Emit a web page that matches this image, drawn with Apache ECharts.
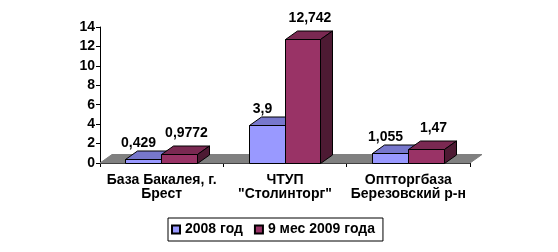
<!DOCTYPE html>
<html><head><meta charset="utf-8">
<script src="https://cdn.jsdelivr.net/npm/echarts@6/dist/echarts.min.js"></script>
<style>html,body{margin:0;padding:0;background:#fff}#c{width:558px;height:252px}</style>
</head><body><div id="c"></div>
<script>
const categories = ['База Бакалея, г.\nБрест', 'ЧТУП\n"Столинторг"', 'Оптторгбаза\nБерезовский р-н'];
const seriesNames = ['2008 год', '9 мес 2009 года'];
const values2008 = [0.429, 3.9, 1.055];
const values2009 = [0.9772, 12.742, 1.47];
const yTicks = {min: 0, max: 14, interval: 2};

const FONT = '"Liberation Sans", Arial, sans-serif';
const FS = 14;
const DX = 12, DY = 8.5;
const palettes = [
  {front: '#9999FF', top: '#7777CC', side: '#4D4D80', lx: -5, ly: -16},
  {front: '#993366', top: '#7A2952', side: '#4D1A33', lx: 7, ly: -21}
];
const fmt = v => String(v).replace('.', ',');
const r = v => Math.round(v) + 0.5;

function barRender(si) {
  const p = palettes[si];
  return function (params, api) {
    const cat = api.value(0), val = api.value(1);
    const t = api.coord([cat, val]);
    const b = api.coord([cat, 0]);
    const bw = api.size([1, 0])[0] * 0.29;
    const x0 = r(t[0] - bw + si * bw - 0.5), x1 = r(t[0] + si * bw - 0.5);
    const yt = r(t[1]), yb = r(b[1]);
    const st = {stroke: '#000', lineWidth: 1, lineJoin: 'miter'};
    return {
      type: 'group',
      children: [
        {type: 'polygon', shape: {points: [[x0, yt], [x1, yt], [x1, yb], [x0, yb]]}, style: Object.assign({fill: p.front}, st)},
        {type: 'polygon', shape: {points: [[x0, yt], [x1, yt], [x1 + DX, yt - DY], [x0 + DX, yt - DY]]}, style: Object.assign({fill: p.top}, st)},
        {type: 'polygon', shape: {points: [[x1, yt], [x1 + DX, yt - DY], [x1 + DX, yb - DY], [x1, yb]]}, style: Object.assign({fill: p.side}, st)},
        {type: 'text', x: (x0 + x1) / 2 + p.lx, y: yt + p.ly,
          style: {text: fmt(val), fill: '#000', font: 'bold ' + FS + 'px ' + FONT, align: 'center', verticalAlign: 'middle'}}
      ]
    };
  };
}

function floorRender(params, api) {
  const cs = params.coordSys;
  const x = cs.x, y = cs.y + cs.height, w = cs.width;
  return {
    type: 'polygon',
    shape: {points: [[x, y], [x + w, y], [x + w + DX, y - DY], [x + DX, y - DY]]},
    style: {fill: '#808080', stroke: '#808080', lineWidth: 1}
  };
}

const chart = echarts.init(document.getElementById('c'), null, {renderer: 'canvas'});
chart.setOption({
  animation: false,
  backgroundColor: '#fff',
  grid: {left: 100, right: 88, top: 27, bottom: 89},
  legend: {
    data: seriesNames.map(n => ({name: n, icon: 'rect'})),
    left: 168, top: 218,
    itemWidth: 8, itemHeight: 8, itemGap: 11,
    borderColor: '#000', borderWidth: 1, padding: [3, 8, 3, 3],
    textStyle: {fontFamily: FONT, fontWeight: 'bold', fontSize: FS, color: '#000', lineHeight: 17}
  },
  xAxis: {
    type: 'category', data: categories,
    axisLine: {lineStyle: {color: '#000'}},
    axisTick: {show: true, length: 4, lineStyle: {color: '#000'}},
    axisLabel: {interval: 0, margin: 10, color: '#000', fontFamily: FONT, fontWeight: 'bold', fontSize: FS, lineHeight: 14}
  },
  yAxis: {
    type: 'value', min: yTicks.min, max: yTicks.max, interval: yTicks.interval,
    axisLine: {show: true, lineStyle: {color: '#000'}},
    axisTick: {show: true, length: 4, lineStyle: {color: '#000'}},
    splitLine: {show: false},
    axisLabel: {margin: 5, color: '#000', fontFamily: FONT, fontWeight: 'bold', fontSize: FS}
  },
  series: [
    {type: 'custom', name: '_floor', data: [[0, 0]], renderItem: floorRender, clip: false, silent: true, z: 1, encode: {x: 0, y: 1}},
    {type: 'custom', name: seriesNames[0], data: values2008.map((v, i) => [i, v]), renderItem: barRender(0), clip: false, z: 2,
      itemStyle: {color: palettes[0].front, borderColor: '#000', borderWidth: 1}, encode: {x: 0, y: 1}},
    {type: 'custom', name: seriesNames[1], data: values2009.map((v, i) => [i, v]), renderItem: barRender(1), clip: false, z: 3,
      itemStyle: {color: palettes[1].front, borderColor: '#000', borderWidth: 1}, encode: {x: 0, y: 1}}
  ]
});
</script></body></html>
